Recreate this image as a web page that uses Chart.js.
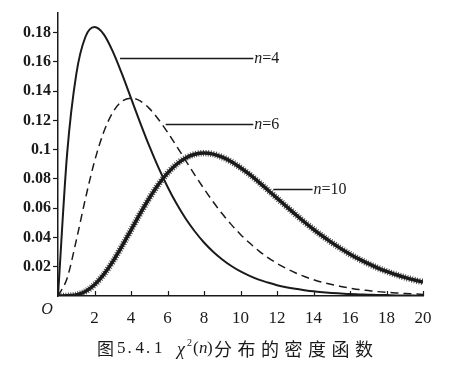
<!DOCTYPE html>
<html>
<head>
<meta charset="utf-8">
<script src="https://cdn.jsdelivr.net/npm/chart.js@4.4.1/dist/chart.umd.min.js"></script>
<style>
  html, body { margin: 0; padding: 0; background: #fff; }
  #wrap { width: 475px; height: 372px; position: relative; }
</style>
</head>
<body>
<div id="wrap"><canvas id="chi2"></canvas></div>
<script>
// x values (step 0.5) and densities
const xs = [0,0.5,1,1.5,2,2.5,3,3.5,4,4.5,5,5.5,6,6.5,7,7.5,8,8.5,9,9.5,10,
  10.5,11,11.5,12,12.5,13,13.5,14,14.5,15,15.5,16,16.5,17,17.5,18,18.5,19,19.5,20];
const n4 = [0,0.0973,0.1516,0.1771,0.1839,0.1791,0.1673,0.1520,0.1353,0.1186,0.1026,
  0.0879,0.0747,0.0630,0.0528,0.0441,0.0366,0.0303,0.0250,0.0205,0.0168,
  0.0138,0.0112,0.0092,0.0074,0.0060,0.0049,0.0040,0.0032,0.0026,0.0021,
  0.0017,0.0013,0.0011,0.0009,0.0007,0.0006,0.0004,0.0004,0.0003,0.0002];
const n6 = [0,0.0122,0.0379,0.0664,0.0920,0.1119,0.1255,0.1331,0.1353,0.1334,0.1283,
  0.1209,0.1120,0.1024,0.0925,0.0827,0.0733,0.0644,0.0562,0.0488,0.0421,
  0.0362,0.0309,0.0263,0.0223,0.0189,0.0159,0.0133,0.0112,0.0093,0.0078,
  0.0065,0.0054,0.0044,0.0037,0.0030,0.0025,0.0021,0.0017,0.0014,0.0011];
const n10 = [0,0.0001,0.0008,0.0031,0.0077,0.0146,0.0235,0.0340,0.0451,0.0563,0.0668,
  0.0762,0.0840,0.0901,0.0944,0.0969,0.0977,0.0970,0.0949,0.0918,0.0877,
  0.0831,0.0779,0.0725,0.0669,0.0614,0.0559,0.0506,0.0456,0.0409,0.0365,
  0.0324,0.0286,0.0252,0.0221,0.0193,0.0168,0.0147,0.0127,0.0110,0.0095];

const xTicks = [0,2,4,6,8,10,12,14,16,18,20];
const yTicks = [0.02,0.04,0.06,0.08,0.1,0.12,0.14,0.16,0.18];
const yTickLabels = ["0.02","0.04","0.06","0.08","0.1","0.12","0.14","0.16","0.18"];

// leader labels: n value, x where the line leaves the curve, y level, x where it ends
const curveLabels = [
  { n: "4", x0: 3.4, y: 0.163, x1: 10.7 },
  { n: "6", x0: 5.9, y: 0.1175, x1: 10.7 },
  { n: "10", x0: 11.8, y: 0.0735, x1: 13.95 }
];
const captionHead = "图";
const captionNum = "5.4.1";
const captionTail = "分布的密度函数";

const pts = arr => arr.map((v, i) => ({ x: xs[i], y: v }));
const ink = "#1a1a1a";

const extras = {
  id: "extras",
  afterDraw(chart) {
    const c = chart.ctx, sx = chart.scales.x, sy = chart.scales.y;
    c.save();
    // inward x ticks
    c.strokeStyle = ink; c.lineWidth = 1.2;
    xTicks.forEach(t => {
      if (t === 0) return;
      const px = Math.round(sx.getPixelForValue(t)) + 0.5;
      c.beginPath(); c.moveTo(px, sy.bottom); c.lineTo(px, sy.bottom - 5); c.stroke();
    });
    // leader lines and labels
    c.lineWidth = 1.3;
    c.fillStyle = ink; c.textBaseline = "middle"; c.textAlign = "left";
    curveLabels.forEach(l => {
      const py = Math.round(sy.getPixelForValue(l.y)) + 0.5;
      const a = sx.getPixelForValue(l.x0), b = sx.getPixelForValue(l.x1);
      c.beginPath(); c.moveTo(a, py); c.lineTo(b, py); c.stroke();
      c.font = "italic 16px 'Liberation Serif'";
      c.fillText("n", b + 1, py);
      const w = c.measureText("n").width;
      c.font = "16px 'Liberation Serif'";
      c.fillText("=" + l.n, b + 1 + w, py);
    });
    // origin
    c.font = "italic 16px 'Liberation Serif'";
    c.textAlign = "center";
    c.fillText("O", sx.left - 11, sy.bottom + 14);
    // caption
    const cy = 349;
    c.textAlign = "left";
    c.font = "17px 'Noto Sans CJK SC'";
    c.fillText(captionHead, 97, cy);
    c.font = "17px 'Liberation Serif'";
    let x = 117;
    for (const ch of captionNum) {
      c.fillText(ch, x, cy);
      x += ch === "." ? 8 : 10.5;
    }
    c.font = "italic 18px 'Liberation Serif'";
    c.fillText("χ", 177, cy + 1);
    c.font = "10px 'Liberation Serif'";
    c.fillText("2", 187, cy - 6);
    c.font = "17px 'Liberation Serif'";
    c.fillText("(", 193, cy);
    c.font = "italic 17px 'Liberation Serif'";
    c.fillText("n", 199, cy);
    c.font = "17px 'Liberation Serif'";
    c.fillText(")", 207, cy);
    c.font = "18px 'Noto Sans CJK SC'";
    x = 214;
    for (const ch of captionTail) {
      c.fillText(ch, x, cy);
      x += 23.5;
    }
    c.restore();
  }
};

new Chart(document.getElementById("chi2"), {
  type: "line",
  data: {
    datasets: [
      {
        label: "n=4",
        data: pts(n4),
        borderColor: ink,
        borderWidth: 2,
        pointRadius: 0,
        cubicInterpolationMode: "monotone"
      },
      {
        label: "n=6",
        data: pts(n6),
        borderColor: ink,
        borderWidth: 1.5,
        borderDash: [8, 5],
        pointRadius: 0,
        cubicInterpolationMode: "monotone"
      },
      {
        label: "n=10",
        data: pts(n10),
        borderColor: ink,
        borderWidth: 3.5,
        pointRadius: 0,
        cubicInterpolationMode: "monotone"
      },
      {
        label: "n=10 hatch",
        data: pts(n10),
        borderColor: "rgba(30,30,30,0.8)",
        borderWidth: 6.5,
        borderDash: [1, 1.5],
        borderCapStyle: "butt",
        pointRadius: 0,
        cubicInterpolationMode: "monotone"
      }
    ]
  },
  options: {
    responsive: true,
    maintainAspectRatio: false,
    animation: false,
    layout: { padding: { left: 0, right: 52, top: 13, bottom: 0 } },
    plugins: { legend: { display: false }, tooltip: { enabled: false } },
    scales: {
      x: {
        type: "linear",
        min: 0,
        max: 20,
        afterFit: s => { s.height = 76; },
        afterBuildTicks: s => { s.ticks = xTicks.map(v => ({ value: v })); },
        border: { color: ink, width: 1.5 },
        grid: { display: false },
        ticks: {
          color: ink,
          padding: 4,
          font: { family: "'Liberation Serif'", size: 17 },
          callback: v => (v === 0 ? "" : String(v))
        }
      },
      y: {
        min: 0,
        max: 0.1935,
        afterFit: s => { s.width = 58; },
        afterBuildTicks: s => { s.ticks = yTicks.map(v => ({ value: v })); },
        border: { color: ink, width: 1.5 },
        grid: { drawOnChartArea: false, drawTicks: true, tickLength: 5, color: ink, tickWidth: 1.2 },
        ticks: {
          color: ink,
          padding: 2,
          font: { family: "'Liberation Serif'", size: 16, weight: "bold" },
          callback: (v, i) => yTickLabels[i]
        }
      }
    }
  },
  plugins: [extras]
});
</script>
</body>
</html>
